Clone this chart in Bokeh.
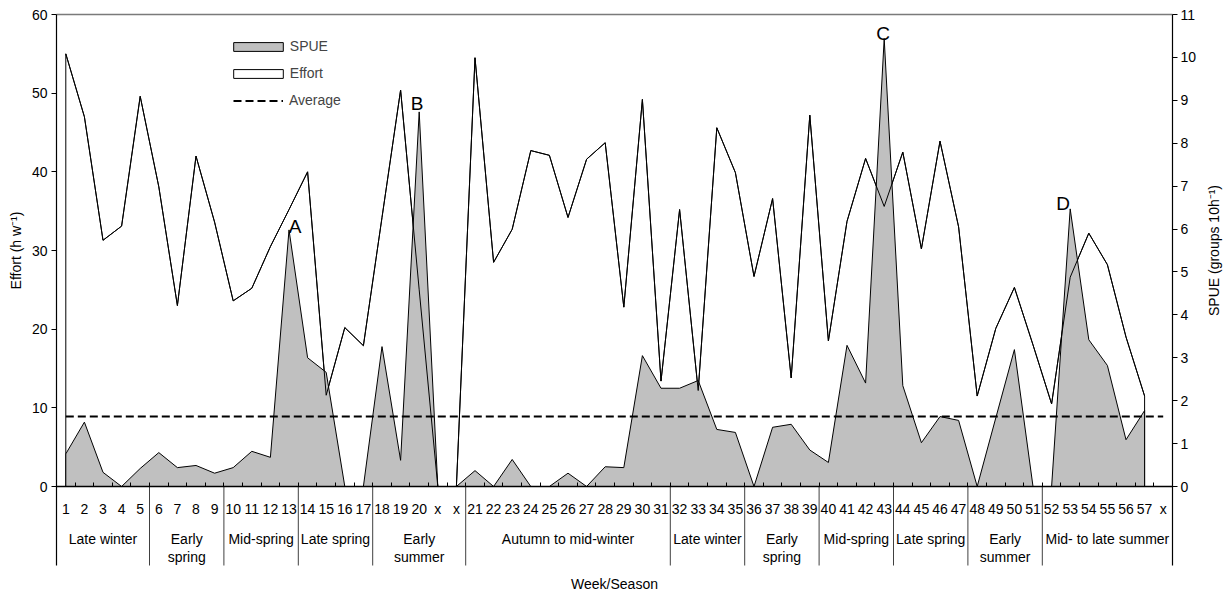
import numpy as np
from bokeh.plotting import figure
from bokeh.models import (Range1d, LinearAxis, FixedTicker, Legend, LegendItem)
from bokeh.core.properties import value
from bokeh.embed import file_html
from bokeh.resources import INLINE

# ---------------- data ----------------
weeks = [str(i) for i in range(1, 21)] + ["x", "x"] + [str(i) for i in range(21, 58)] + ["x"]

effort = [55.0, 47.0, 31.3, 33.1, 49.6, 38.1, 23.0, 42.0, 33.6, 23.6,
          25.2, 30.5, 35.2, 40.0, 11.6, 20.2, 17.9, 34.2, 50.4, 25.0,
          0.0, 0.0,
          54.5, 28.5, 32.7, 42.7, 42.1, 34.2, 41.6, 43.7, 22.8, 49.2,
          13.4, 35.2, 12.2, 45.6, 39.9, 26.7, 36.6, 13.8, 47.2, 18.5,
          33.7, 41.7, 35.6, 42.5, 30.2, 43.9, 33.0, 11.5, 20.1, 25.3,
          18.0, 10.5, 26.6, 32.2, 28.2, 19.0, 11.5,
          None]

spue = [0.76, 1.50, 0.33, 0.0, 0.42, 0.79, 0.44, 0.49, 0.31, 0.44,
        0.82, 0.68, 5.98, 3.00, 2.66, 0.0, 0.0, 3.26, 0.61, 8.73,
        0.0, 0.0,
        0.37, 0.0, 0.63, 0.0, 0.0, 0.31, 0.0, 0.46, 0.44, 3.05,
        2.29, 2.29, 2.47, 1.33, 1.26, 0.0, 1.38, 1.45, 0.85, 0.56,
        3.29, 2.41, 10.44, 2.35, 1.02, 1.63, 1.54, 0.0, 1.60, 3.19,
        0.0, 0.0, 6.47, 3.42, 2.82, 1.09, 1.77,
        None]

average_spue = 1.63

season_line1 = ["Late winter", "Early", "Mid-spring", "Late spring", "Early",
                "Autumn to mid-winter", "Late winter", "Early", "Mid-spring",
                "Late spring", "Early", "Mid- to late summer"]
season_line2 = ["", "spring", "", "", "summer", "", "", "spring", "", "", "summer", ""]
season_lengths = [5, 4, 4, 4, 5, 11, 4, 4, 4, 4, 4, 7]

peak_letters = ["A", "B", "C", "D"]
peak_index = [12, 19, 44, 54]          # positions in the weeks list (weeks 13, 20, 43, 53)

effort_max, spue_max = 60, 11
effort_ticks = [0, 10, 20, 30, 40, 50, 60]
spue_ticks = list(range(0, 12))

effort_title = "Effort (h w\u207b\u00b9)"
spue_title = "SPUE (groups 10h\u207b\u00b9)"
x_title = "Week/Season"

# ---------------- layout geometry (pixels) ----------------
W, H = 1232, 594
F_LEFT, F_RIGHT, F_TOP = 56, 1172, 14      # value area
ZERO_Y = 486                               # pixel row of value 0
LOW_Y = 565                                # bottom of the season rows
FONT = "Liberation Sans"
FS = "14px"

n = len(weeks)
cat_w = (F_RIGHT - F_LEFT) / n
px_per_eff = (ZERO_Y - F_TOP) / effort_max
spue_per_eff = spue_max / effort_max


def X(px):
    return (px - F_LEFT) / cat_w


def Y(py):
    return (ZERO_Y - py) / px_per_eff


low = Y(LOW_Y)

xc = np.arange(n) + 0.5
valid = np.array([v is not None for v in effort])
ex = xc[valid]
ev = np.array([v for v in effort if v is not None])
sv = np.array([v for v in spue if v is not None])
poly_x = np.concatenate([[ex[0]], ex, [ex[-1]]])
poly_e = np.concatenate([[0.0], ev, [0.0]])
poly_s = np.concatenate([[0.0], sv, [0.0]])

p = figure(width=W, height=H, output_backend="svg", toolbar_location=None,
           x_range=Range1d(X(0), X(W)), y_range=Range1d(Y(H), Y(0)),
           min_border_left=0, min_border_right=0, min_border_top=0, min_border_bottom=0)
p.extra_y_ranges = {"spue": Range1d(Y(H) * spue_per_eff, Y(0) * spue_per_eff)}
p.outline_line_color = None
p.xgrid.visible = False
p.ygrid.visible = False
p.background_fill_color = "white"
p.border_fill_color = "white"


def style_axis(ax):
    ax.major_label_text_font = FONT
    ax.major_label_text_font_size = FS
    ax.major_label_text_color = "black"
    ax.minor_tick_out = 0
    ax.minor_tick_in = 0
    ax.major_tick_in = 0


# week axis at value 0
wax = p.below[0]
style_axis(wax)
wax.fixed_location = 0
wax.bounds = (0, n)
wax.ticker = FixedTicker(ticks=[float(v) for v in xc],
                         minor_ticks=[float(v) for v in range(n + 1)])
wax.major_label_overrides = {float(x): w for x, w in zip(xc, weeks)}
wax.axis_line_color = "black"
wax.axis_line_width = 1.5
wax.major_tick_out = 0
wax.minor_tick_in = 4
wax.minor_tick_line_color = "black"
wax.major_label_standoff = 14

# left (effort) axis
lax = p.left[0]
style_axis(lax)
lax.fixed_location = 0
lax.bounds = (low, effort_max)
lax.ticker = FixedTicker(ticks=effort_ticks)
lax.axis_line_color = "black"
lax.axis_line_width = 1.2
lax.major_tick_out = 5
lax.major_tick_line_color = "black"
lax.major_label_standoff = 4

# right (SPUE) axis
rax = LinearAxis(y_range_name="spue", ticker=FixedTicker(ticks=spue_ticks))
style_axis(rax)
rax.fixed_location = n
rax.bounds = (low * spue_per_eff, spue_max)
rax.axis_line_color = "black"
rax.axis_line_width = 1.2
rax.major_tick_out = 5
rax.major_tick_line_color = "black"
rax.major_label_standoff = 3
p.add_layout(rax, "right")

# top frame line
p.segment(x0=[0], y0=[effort_max], x1=[n], y1=[effort_max], line_color="#7a7a7a",
          line_width=1.5)

# series
r_eff = p.patch(poly_x, poly_e, fill_color="white", line_color="black", line_width=1,
                line_join="miter")
r_spue = p.patch(poly_x, poly_s, fill_color="#c0c0c0", line_color="black", line_width=1,
                 line_join="miter", y_range_name="spue")
p.line(ex, ev, line_color="black", line_width=1, line_join="miter")
r_avg = p.line([xc[0], xc[-1]], [average_spue, average_spue], y_range_name="spue",
               line_color="black", line_width=2, line_dash="8 4")

# peak letters
spue_arr = np.array([v if v is not None else 0 for v in spue])
p.text(x=[xc[i] for i in peak_index], y=[spue_arr[i] for i in peak_index], text=peak_letters,
       y_range_name="spue", x_offset=[6, -2, -1, -7], y_offset=[-3, -8, -5, -5],
       text_align="center", text_baseline="alphabetic",
       text_font=value(FONT), text_font_size="19px", text_color="black")

# season separators and labels
bounds = np.concatenate([[0], np.cumsum(season_lengths)])
inner = bounds[1:-1]
p.segment(x0=inner, y0=np.zeros(len(inner)), x1=inner, y1=np.full(len(inner), low),
          line_color="#404040", line_width=1)
centers = (bounds[:-1] + bounds[1:]) / 2.0
p.text(x=centers, y=np.full(len(centers), Y(ZERO_Y + 52)), text=season_line1,
       text_align="center", text_baseline="middle",
       text_font=value(FONT), text_font_size=FS, text_color="black")
p.text(x=centers, y=np.full(len(centers), Y(ZERO_Y + 70)), text=season_line2,
       text_align="center", text_baseline="middle",
       text_font=value(FONT), text_font_size=FS, text_color="black")

# axis titles
mid_val = effort_max / 2.0
p.text(x=[X(15), X(1213)], y=[mid_val, mid_val], text=[effort_title, spue_title],
       angle=float(np.pi / 2), text_align="center", text_baseline="middle",
       text_font=value(FONT), text_font_size=FS, text_color="black")
p.text(x=[n / 2.0], y=[Y(583)], text=[x_title], text_align="center", text_baseline="middle",
       text_font=value(FONT), text_font_size=FS, text_color="black")

# legends
leg1 = Legend(items=[LegendItem(label="SPUE", renderers=[r_spue]),
                     LegendItem(label="Effort", renderers=[r_eff])],
              location=(226.8, 513), glyph_width=62, glyph_height=11, label_height=16,
              spacing=11, padding=0, margin=0, label_standoff=1,
              border_line_color=None, background_fill_alpha=0,
              label_text_font=FONT, label_text_font_size=FS)
leg2 = Legend(items=[LegendItem(label="Average", renderers=[r_avg])],
              location=(233, 486), glyph_width=50, glyph_height=11, label_height=16,
              spacing=0, padding=0, margin=0, label_standoff=6,
              border_line_color=None, background_fill_alpha=0,
              label_text_font=FONT, label_text_font_size=FS)
p.add_layout(leg1)
p.add_layout(leg2)

open("out.html", "w").write(file_html(p, INLINE))
